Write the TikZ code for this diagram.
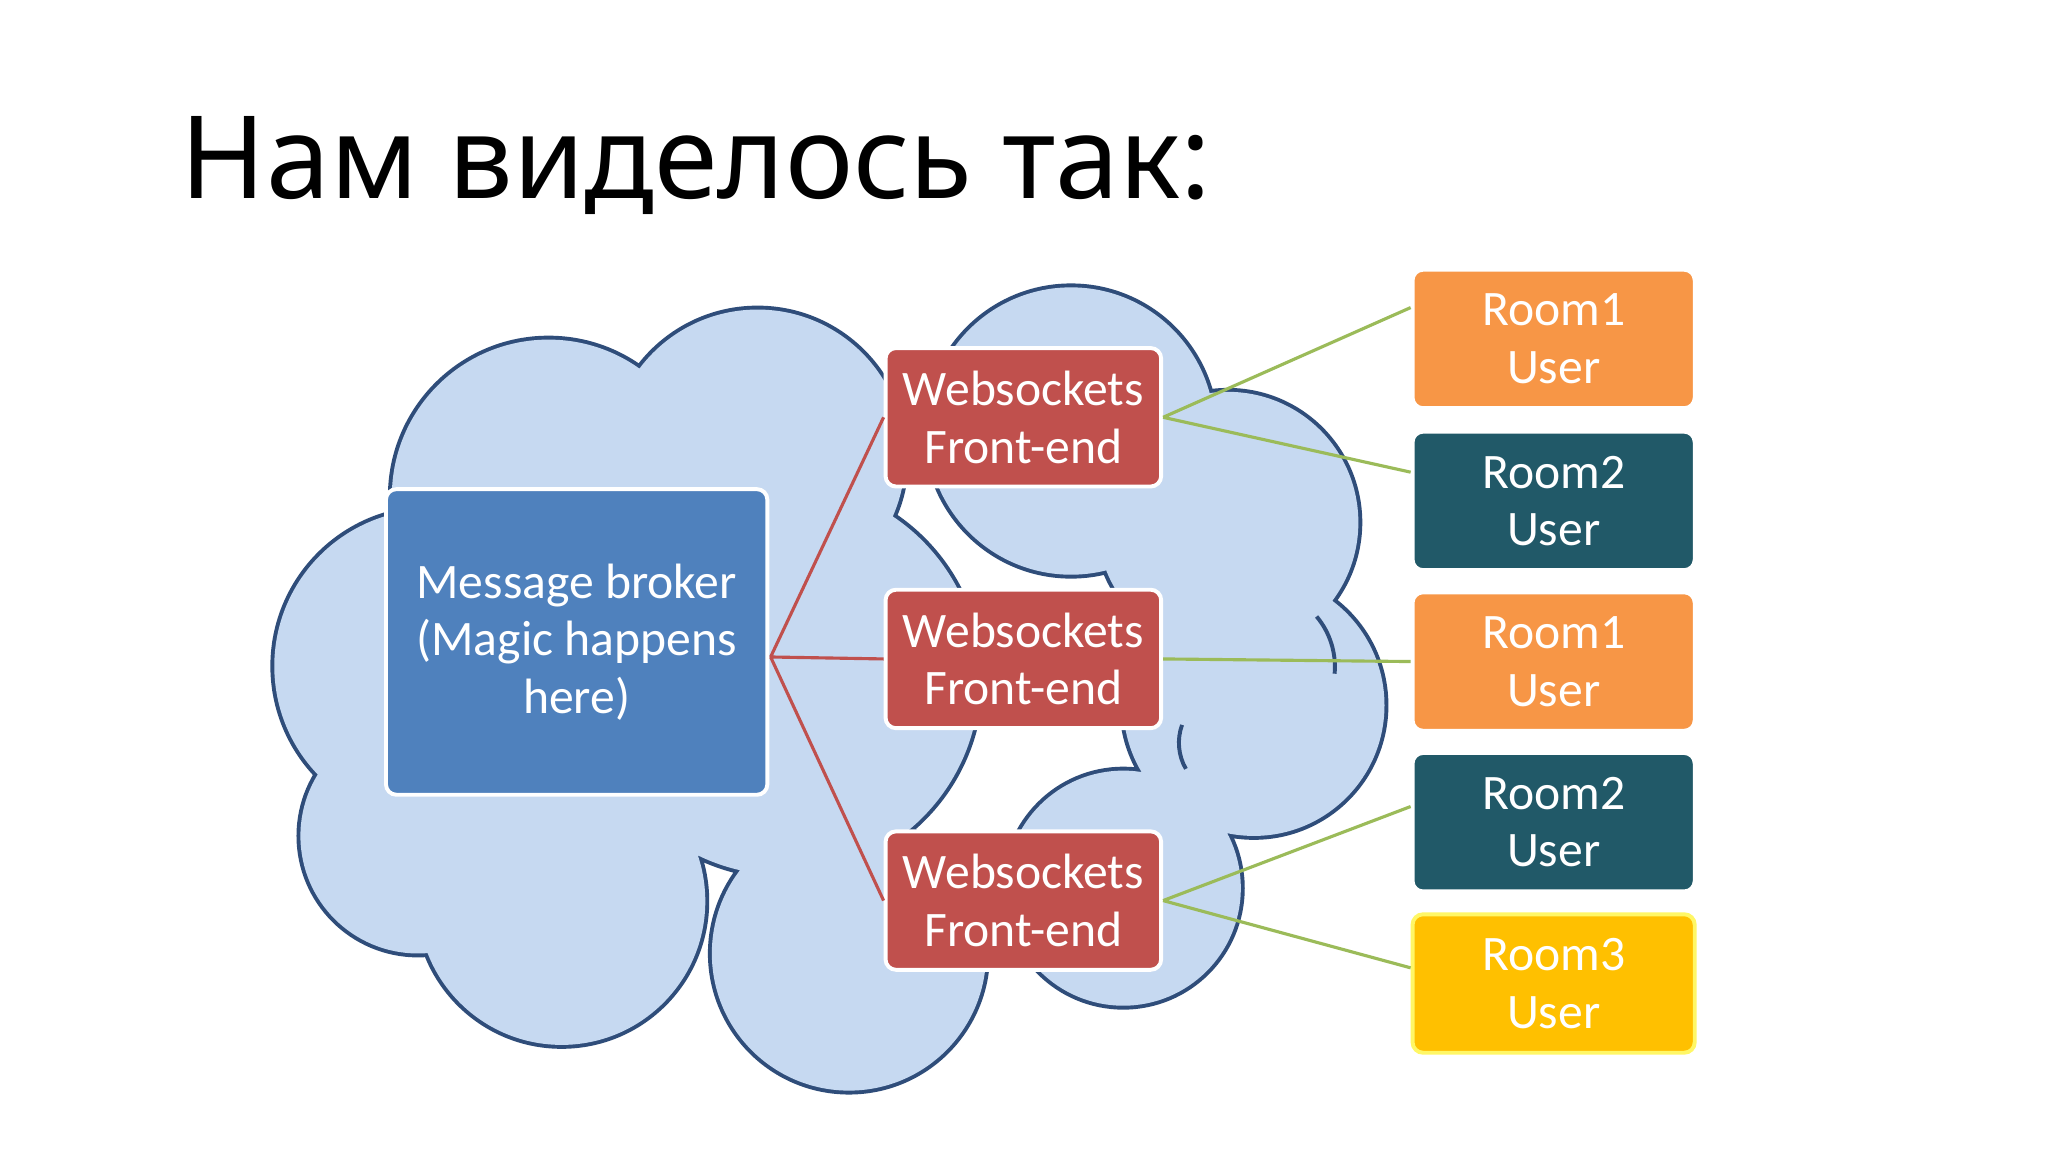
\documentclass[tikz,border=0pt]{standalone}
\usepackage{fontspec}
\setmainfont{Carlito}
\newfontfamily\titlefont{Noto Sans}
\begin{document}
\begin{tikzpicture}[x=0.5pt,y=-0.5pt,
  box/.style={draw=white,line width=1.5pt,rounded corners=4pt,minimum width=105.5pt,minimum height=53pt,text=white,font=\fontsize{19}{22}\selectfont,align=center,inner sep=0pt},
  red/.style={draw=red!50!black!60!red,line width=1.2pt},
  grn/.style={draw=green!45!olive!60!lime,line width=1.2pt}]
\definecolor{cloud}{HTML}{C6D9F1}
\definecolor{cloudline}{HTML}{2F4D7A}
\definecolor{brk}{HTML}{4F81BD}
\definecolor{ws}{HTML}{C0504D}
\definecolor{orng}{HTML}{F79646}
\definecolor{teal}{HTML}{215968}
\definecolor{yel}{HTML}{FFC000}
\definecolor{redl}{HTML}{C0504D}
\definecolor{grnl}{HTML}{9BBB59}
\useasboundingbox (0,0) rectangle (1568,882);
\fill[white] (0,0) rectangle (1568,882);
\node[anchor=base west,font=\titlefont\fontsize{44}{50}\selectfont,inner sep=0] (title) at (138,152) {Нам виделось так:};
% cloud
\def\circs{(330,510) circle (120) (420,380) circle (120) (580,350) circle (113) (820,330) circle (110) (940,400) circle (100) (960,540) circle (100) (860,680) circle (90) (650,730) circle (105) (430,690) circle (110) (320,640) circle (90) (600,520) circle (150)}
\draw[cloudline,line width=3pt] \circs;
\fill[cloud] \circs;
\draw[cloudline,line width=1.5pt] (1008,472) arc (-40:5:60);
\draw[cloudline,line width=1.5pt] (905,555) arc (200:150:40);
% nodes
\node[box,fill=brk,minimum width=146pt,minimum height=117pt] (mb) at (441.5,491.5) {Message broker\\(Magic happens\\here)};
\node[box,fill=ws] (w1) at (783.5,319.5) {Websockets\\Front-end};
\node[box,fill=ws] (w2) at (783.5,504.5) {Websockets\\Front-end};
\node[box,fill=ws] (w3) at (783.5,689.5) {Websockets\\Front-end};
\node[box,fill=orng,minimum width=108pt] (r1) at (1189.5,259.5) {Room1\\User};
\node[box,fill=teal,minimum width=108pt] (r2) at (1189.5,383.5) {Room2\\User};
\node[box,fill=orng,minimum width=108pt] (r3) at (1189.5,506.5) {Room1\\User};
\node[box,fill=teal,minimum width=108pt] (r4) at (1189.5,629.5) {Room2\\User};
\node[box,fill=yel,draw=yellow!60,minimum width=108pt] (r5) at (1189.5,753) {Room3\\User};
\coordinate (mr) at (590,503);
\draw[redl,line width=1.2pt] (mr) -- (w1.west) (mr) -- (w2.west) (mr) -- (w3.west);
\draw[grnl,line width=1.2pt] (w1.east) -- ([yshift=12pt]r1.west) (w1.east) -- ([yshift=11pt]r2.west)
  (w2.east) -- (r3.west) (w3.east) -- ([yshift=6pt]r4.north west|-r4.west) (w3.east) -- ([yshift=6pt]r5.west);
\end{tikzpicture}
\end{document}
